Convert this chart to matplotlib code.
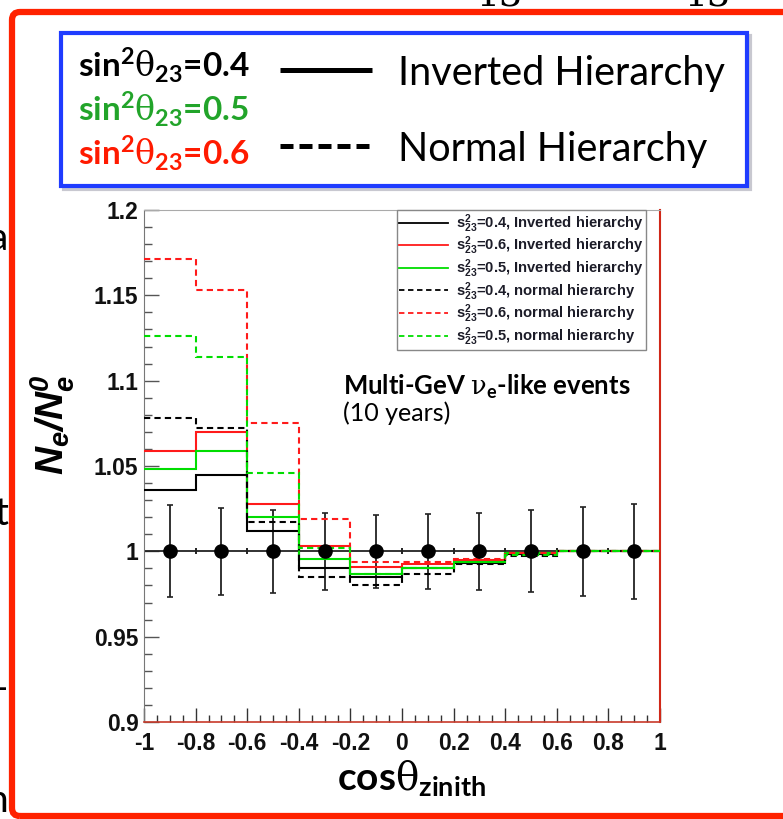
import numpy as np
import matplotlib
matplotlib.use("Agg")
import matplotlib.pyplot as plt
from matplotlib.patches import FancyBboxPatch, Rectangle
from matplotlib.lines import Line2D

plt.rcParams['mathtext.fontset'] = 'custom'
plt.rcParams['mathtext.rm'] = 'Liberation Sans:bold'
plt.rcParams['mathtext.bf'] = 'Lato:bold'
plt.rcParams['mathtext.sf'] = 'Liberation Sans:bold:italic'
plt.rcParams['mathtext.it'] = 'DejaVu Serif'

# bins in cos(zenith)
bin_edges = [-1.0, -0.8, -0.6, -0.4, -0.2, 0.0, 0.2, 0.4, 0.6, 0.8, 1.0]
bin_centers = [-0.9, -0.7, -0.5, -0.3, -0.1, 0.1, 0.3, 0.5, 0.7, 0.9]
data_ratio = [1.0, 1.0, 1.0, 1.0, 1.0, 1.0, 1.0, 1.0, 1.0, 1.0]
data_err = [0.027, 0.0255, 0.0245, 0.0225, 0.0215, 0.022, 0.0225, 0.024, 0.026, 0.0278]

# N_e/N_e^0 per bin
ih_04 = [1.036, 1.045, 1.012, 0.990, 0.985, 0.990, 0.993, 0.9985, 1.000, 1.000]
ih_06 = [1.059, 1.070, 1.028, 1.003, 0.991, 0.9925, 0.995, 0.999, 1.000, 1.000]
ih_05 = [1.048, 1.059, 1.020, 0.9955, 0.987, 0.990, 0.994, 0.999, 1.000, 1.000]
nh_04 = [1.078, 1.072, 1.017, 0.985, 0.980, 0.987, 0.9925, 0.997, 1.000, 1.000]
nh_06 = [1.171, 1.153, 1.075, 1.019, 0.994, 0.994, 0.9957, 0.999, 1.000, 1.000]
nh_05 = [1.126, 1.114, 1.046, 1.002, 0.987, 0.990, 0.994, 0.998, 1.000, 1.000]

W, H = 783, 819
RED = '#ff1a1a'
GREEN = '#00dd00'
DASH = (0, (3, 2))

def fx(x):
    return x / W

def fy(y):
    return 1 - y / H

fig = plt.figure(figsize=(W / 100, H / 100), dpi=100)
ax = fig.add_axes([fx(144), fy(722), fx(660) - fx(144), fy(210) - fy(722)])

def ax_x(px):
    return (px - 144) / 516

def ax_y(py):
    return 1 - (py - 210) / 512

half_w = np.diff(bin_edges) / 2
ax.errorbar(bin_centers, data_ratio, yerr=data_err, xerr=half_w, fmt='none',
            ecolor='#222222', elinewidth=1.3, capsize=2.5, capthick=1.2, zorder=2)

series = [
    (ih_04, 'black', '-', r'$\mathrm{s^{2}_{23}}$=0.4, Inverted hierarchy'),
    (ih_06, RED, '-', r'$\mathrm{s^{2}_{23}}$=0.6, Inverted hierarchy'),
    (ih_05, GREEN, '-', r'$\mathrm{s^{2}_{23}}$=0.5, Inverted hierarchy'),
    (nh_04, 'black', DASH, r'$\mathrm{s^{2}_{23}}$=0.4, normal hierarchy'),
    (nh_06, RED, DASH, r'$\mathrm{s^{2}_{23}}$=0.6, normal hierarchy'),
    (nh_05, GREEN, DASH, r'$\mathrm{s^{2}_{23}}$=0.5, normal hierarchy'),
]
handles = []
for vals, col, ls, lab in series:
    ax.stairs(vals, bin_edges, baseline=None, color=col, linestyle=ls, lw=1.5, zorder=3)
    handles.append(Line2D([], [], color=col, linestyle=ls, lw=1.3, label=lab))

ax.plot(bin_centers, data_ratio, 'o', color='black', ms=9.5, zorder=5)

ax.set_xlim(-1, 1)
ax.set_ylim(0.9, 1.2)
ax.set_xticks([-1, -0.8, -0.6, -0.4, -0.2, 0, 0.2, 0.4, 0.6, 0.8, 1])
ax.set_xticklabels(['-1', '-0.8', '-0.6', '-0.4', '-0.2', '0', '0.2', '0.4', '0.6', '0.8', '1'])
ax.set_xticks(np.arange(-1, 1.001, 0.05), minor=True)
ax.set_yticks([0.9, 0.95, 1.0, 1.05, 1.1, 1.15, 1.2])
ax.set_yticklabels(['0.9', '0.95', '1', '1.05', '1.1', '1.15', '1.2'])
ax.set_yticks(np.arange(0.9, 1.2001, 0.01), minor=True)
ax.tick_params(axis='both', which='both', direction='in', top=False, right=False)
ax.tick_params(axis='y', which='major', length=11, width=1, color='#555555', pad=4)
ax.tick_params(axis='y', which='minor', length=5.5, width=1, color='#555555')
ax.tick_params(axis='x', which='major', length=10, width=1, color='#333333', pad=7)
ax.tick_params(axis='x', which='minor', length=5, width=1, color='#333333')
for lab in ax.get_xticklabels() + ax.get_yticklabels():
    lab.set_fontfamily('Liberation Sans')
    lab.set_fontweight('bold')
    lab.set_fontsize(16.5)
    lab.set_color('#111111')
ax.spines['left'].set_color('#777777')
ax.spines['top'].set_color('#aaaaaa')
ax.spines['right'].set_color('#d02818')
ax.spines['right'].set_linewidth(1.5)
ax.spines['bottom'].set_color('#c83a2a')
ax.spines['bottom'].set_linewidth(1.2)

leg = ax.legend(handles=handles, loc='upper right', bbox_to_anchor=(ax_x(646), 1.0),
                borderaxespad=0, fancybox=False, framealpha=1, edgecolor='#888888',
                prop={'family': 'Liberation Sans', 'weight': 'bold', 'size': 10.6},
                handlelength=3.3, handletextpad=0.6, borderpad=0.15, labelspacing=0.0)
leg.get_frame().set_linewidth(1.0)
for t in leg.get_texts():
    t.set_color('#1c1c28')

ax.text(ax_x(343), ax_y(395), r'Multi-GeV $\nu_{\mathbf{e}}$-like events',
        transform=ax.transAxes, family='Lato', weight='bold', size=18.5, va='baseline')
ax.text(ax_x(343), ax_y(421), '(10 years)',
        transform=ax.transAxes, family='Lato', size=18, va='baseline')

# axis titles
fig.text(fx(53), fy(425), r'$\mathsf{N_{e}/N_{e}^{0}}$', rotation=90, size=28,
         ha='center', va='center')
fig.text(fx(412), fy(790), r'cos$\theta_{\mathbf{zinith}}$', family='Lato', weight='bold',
         size=28, ha='center', va='baseline')

# slide frame and overlay box
inch = fig.dpi_scale_trans
fig.add_artist(FancyBboxPatch((12 / 100, (H - 816) / 100), (820 - 12) / 100, (816 - 12) / 100,
                              boxstyle='round,pad=0,rounding_size=0.08', lw=4.5,
                              ec='#ff2200', fc='none', transform=inch))
fig.add_artist(Rectangle((64 / 100, (H - 189) / 100), (747 - 61) / 100, (186 - 33) / 100,
                         lw=3, ec='#c8c8d0', fc='none', transform=inch))
fig.add_artist(Rectangle((61 / 100, (H - 186) / 100), (747 - 61) / 100, (186 - 33) / 100,
                         lw=3, ec='#1f3cff', fc='white', transform=inch))

sin_labels = [('0.4', 'black', 77), ('0.5', '#22a42a', 121), ('0.6', '#ff1a00', 165)]
for val, col, base in sin_labels:
    fig.text(fx(78), fy(base), r'sin$^{\mathbf{2}}\theta_{\mathbf{23}}$=' + val, family='Lato',
             weight='bold', size=24, color=col, va='baseline')

fig.add_artist(Line2D([fx(280), fx(372)], [fy(70), fy(70)], color='black', lw=3.6,
                      solid_capstyle='butt', transform=fig.transFigure))
fig.add_artist(Line2D([fx(280), fx(372)], [fy(146), fy(146)], color='black', lw=3.6,
                      linestyle=(0, (2.6, 1.2)), dash_capstyle='butt', transform=fig.transFigure))
fig.text(fx(398), fy(85), 'Inverted Hierarchy', family='Lato', size=28.5, va='baseline')
fig.text(fx(398), fy(161), 'Normal Hierarchy', family='Lato', size=28.5, va='baseline')

# cut-off slide text at the edges
fig.text(fx(500), fy(5), '13', family='DejaVu Serif', size=26, ha='center', va='baseline')
fig.text(fx(708), fy(5), '13', family='DejaVu Serif', size=26, ha='center', va='baseline')
for ch, y in [('a', 250), ('t', 525), ('-', 700), ('n', 812)]:
    fig.text(fx(8), fy(y), ch, family='Lato', size=28, ha='right', va='baseline')

fig.savefig('out.png', dpi=100)
